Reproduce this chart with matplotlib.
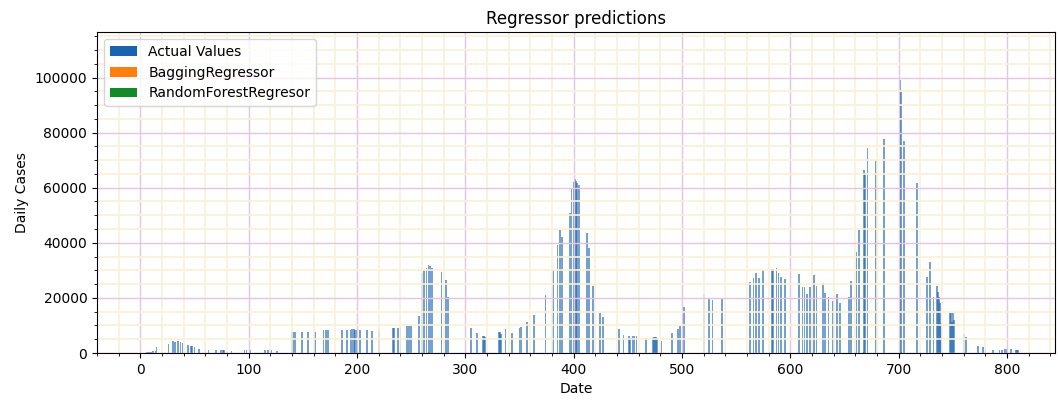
import matplotlib
matplotlib.use("Agg")
import matplotlib.pyplot as plt
from matplotlib.ticker import MultipleLocator

# Day index of each test sample and the actual daily case count
days = [6, 8, 10, 12, 14, 15,
        26, 30, 32, 35, 37, 39, 44, 47, 48, 50, 54, 60, 63,
        70, 74, 75, 76, 77, 84, 96, 98, 101, 115, 118, 121, 126,
        140, 141, 143, 149, 155, 161, 169, 171, 173, 186, 191, 194, 195, 197, 198,
        200, 203, 209, 214, 220, 233, 234, 238, 240, 246, 248, 250,
        257, 260, 262, 264, 266, 267, 269, 278, 282, 284,
        305, 311, 316, 317, 318, 331, 332, 333, 337, 343, 350, 351, 357, 363,
        374, 381, 385, 387, 389, 396, 397, 398, 400, 401, 402, 403, 405,
        412, 414, 418, 424, 427,
        442, 446, 451, 452, 455, 456, 458, 467, 473, 474, 475, 476, 477, 481,
        491, 496, 498, 502, 520, 525, 528, 537,
        563, 566, 568, 571, 575, 583, 584, 587, 589, 591, 595,
        600, 608, 611, 613, 615, 618, 622, 624, 630, 632, 635, 639, 643, 646,
        654, 656, 661, 663, 668, 669, 671, 679, 686, 701, 702, 705, 717,
        726, 729, 732, 735, 736, 737, 738, 739,
        747, 748, 749, 750, 751, 760, 762, 773, 778, 780, 787,
        793, 795, 798, 800, 803, 804, 808, 809, 810]

actual_values = [400, 500, 500, 600, 700, 2000,
                 3300, 4500, 4100, 4500, 4100, 3700, 3000, 2400, 2700, 2200, 1600, 1200, 1200,
                 1000, 1000, 1100, 1000, 1000, 900, 1200, 1200, 1000, 1000, 1000, 1000, 900,
                 7800, 7800, 7700, 7800, 7800, 7800, 8300, 8400, 8300, 8200, 8400, 8500, 8600, 8600, 8500,
                 8400, 8300, 8300, 8100, 8500, 9000, 9100, 9000, 9300, 9800, 9800, 9800,
                 13500, 29000, 30300, 30800, 32000, 31500, 31000, 29500, 26400, 20500,
                 8900, 7400, 6200, 6000, 5800, 7800, 7800, 6800, 8600, 7400, 9000, 9600, 11400, 13800,
                 21100, 30200, 39300, 44700, 42000, 50800, 51000, 59900, 61900, 63100, 62500, 61700, 61100,
                 43500, 38000, 24400, 14700, 13200,
                 8600, 6400, 6200, 5500, 6300, 6300, 6200, 5400, 5600, 5700, 5900, 5700, 5500, 4500,
                 7400, 8600, 9800, 16800, 21400, 19500, 19300, 19500,
                 25900, 27100, 29000, 27100, 30200, 30500, 30400, 30800, 29000, 27700, 26800,
                 29600, 28600, 23900, 23900, 21400, 23900, 28400, 24400, 25300, 21700, 20200, 18700, 21400, 18000,
                 20500, 26300, 36800, 44700, 66500, 65300, 74400, 69900, 77700, 99000, 94700, 76800, 61700,
                 27500, 33200, 20200, 24400, 22300, 20500, 18000, 10800,
                 14700, 14700, 11400, 14700, 12000, 6900, 5700, 2500, 2000, 1500, 1200,
                 1200, 1200, 1400, 1400, 1400, 1300, 1000, 1000, 1000]

# Model predictions (barely visible at the base of the chart)
pred_days = [260, 266, 398, 401, 668, 701, 702]
bagging_pred = [250, 250, 250, 250, 250, 250, 250]
rf_pred = [300, 300, 300, 300, 300, 300, 300]

fig = plt.figure(figsize=(10.58, 4.01), dpi=100)
ax = fig.add_axes([0.0917, 0.1197, 0.9053, 0.8003])

ax.bar(days, actual_values, width=1.6, color='#1a63ae', alpha=0.6, linewidth=0,
       label='Actual Values')
ax.bar(pred_days, bagging_pred, width=1.3, color='#ff7f0e', label='BaggingRegressor')
ax.bar(pred_days, rf_pred, width=1.3, color='#128a2c', label='RandomForestRegresor')

ax.set_ylim(0, 116500)
ax.set_xlim(-40, 844)
ax.xaxis.set_major_locator(MultipleLocator(100))
ax.xaxis.set_minor_locator(MultipleLocator(20))
ax.yaxis.set_major_locator(MultipleLocator(20000))
ax.yaxis.set_minor_locator(MultipleLocator(5000))

ax.grid(which='major', color='#e4c6e4', linewidth=1.0)
ax.grid(which='minor', color='#fbf0d8', linewidth=1.2)

ax.tick_params(labelsize=10)
ax.set_title('Regressor predictions', fontsize=12)
ax.set_xlabel('Date', fontsize=10)
ax.set_ylabel('Daily Cases', fontsize=10)
leg = ax.legend(loc='upper left', fontsize=10)
for h in leg.legend_handles:
    h.set_alpha(1.0)

fig.savefig('out.png', dpi=100)
